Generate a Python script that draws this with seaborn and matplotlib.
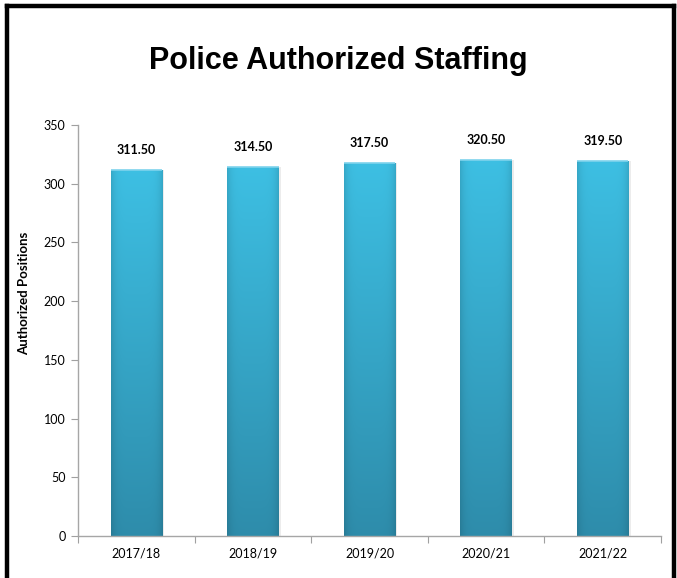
import numpy as np
import pandas as pd
import matplotlib
matplotlib.use("Agg")
import matplotlib.pyplot as plt
from matplotlib.lines import Line2D
import seaborn as sns

# Authorized sworn positions by fiscal year
years = ["2017/18", "2018/19", "2019/20", "2020/21", "2021/22"]
positions = [311.5, 314.5, 317.5, 320.5, 319.5]
y_ticks = [0, 50, 100, 150, 200, 250, 300, 350]

sns.set_theme(style="white")
plt.rcParams["font.family"] = ["Lato", "DejaVu Sans"]

df = pd.DataFrame({"year": years, "positions": positions})

fig = plt.figure(figsize=(6.77, 5.78), dpi=100)
ax = fig.add_axes([78 / 677, 1 - 536 / 578, 583 / 677, 411 / 578])

sns.barplot(data=df, x="year", y="positions", color="#3BBCE0", width=0.44,
            ax=ax, saturation=1)

# Gradient fill for each bar: lighter at the top, darker at the base and edges
top = np.array([0.24, 0.75, 0.89])
bottom = np.array([0.18, 0.55, 0.67])
ny, nx = 200, 60
t = np.linspace(0, 1, ny)[:, None]           # 0 at top, 1 at bottom
s = np.linspace(-1, 1, nx)[None, :]
vert = top[None, None, :] * (1 - t[..., None]) + bottom[None, None, :] * t[..., None]
edge = 1 - 0.12 * np.abs(s) ** 6
img = np.clip(vert * edge[..., None], 0, 1)

for patch in ax.patches:
    x0, y0 = patch.get_x(), patch.get_y()
    w, h = patch.get_width(), patch.get_height()
    # faint shadow on the right side
    ax.bar(x0 + w, h, width=0.02, bottom=0, align="edge",
           color="#ececec", zorder=1, linewidth=0)
    patch.set_facecolor("none")
    patch.set_edgecolor("none")
    im = ax.imshow(img, extent=[x0, x0 + w, y0, y0 + h], aspect="auto",
                   zorder=2, interpolation="bilinear")
    im.set_clip_path(patch)
    ax.plot([x0, x0 + w], [h, h], color="#7fd3ec", lw=1.2, zorder=3,
            solid_capstyle="butt")

for i, v in enumerate(positions):
    ax.annotate(f"{v:.2f}", (i, v), xytext=(0, 10), textcoords="offset points",
                ha="center", va="bottom", fontsize=9, fontweight="bold",
                color="black")

ax.set_xlim(-0.5, len(years) - 0.5)
ax.set_ylim(0, 350)
ax.set_yticks(y_ticks)
ax.set_xticks(range(len(years)))
ax.set_xticks(np.arange(-0.5, len(years), 1.0), minor=True)
ax.tick_params(axis="x", which="major", length=0, pad=8, labelsize=9,
               colors="black")
ax.tick_params(axis="x", which="minor", length=5, width=0.8, color="#a0a0a0",
               direction="out", bottom=True)
ax.tick_params(axis="y", length=5, width=0.8, color="#a0a0a0", direction="out",
               left=True, labelsize=9, pad=4, labelcolor="black")

for side in ["top", "right"]:
    ax.spines[side].set_visible(False)
for side in ["left", "bottom"]:
    ax.spines[side].set_color("#a6a6a6")
    ax.spines[side].set_linewidth(1.0)

ax.set_xlabel("")
ax.set_ylabel("Authorized Positions", fontsize=9.5, fontweight="bold",
              color="black")
ax.yaxis.set_label_coords(-0.083, 0.59)

fig.text(338 / 677, 1 - 69 / 578, "Police Authorized Staffing",
         ha="center", va="baseline", fontsize=22, fontweight="bold",
         family=["Liberation Sans", "DejaVu Sans"], color="black")

# Black frame around the chart (left, top, right)
frame_kw = dict(color="black", linewidth=3.2, transform=fig.transFigure,
                solid_capstyle="projecting")
fig.add_artist(Line2D([7 / 677, 7 / 677], [0, 1 - 5.5 / 578], **frame_kw))
fig.add_artist(Line2D([7 / 677, 673.5 / 677], [1 - 5.5 / 578, 1 - 5.5 / 578],
                      **frame_kw))
fig.add_artist(Line2D([673.5 / 677, 673.5 / 677], [0, 1 - 5.5 / 578],
                      **frame_kw))

fig.savefig("out.png", dpi=100, facecolor="white")
